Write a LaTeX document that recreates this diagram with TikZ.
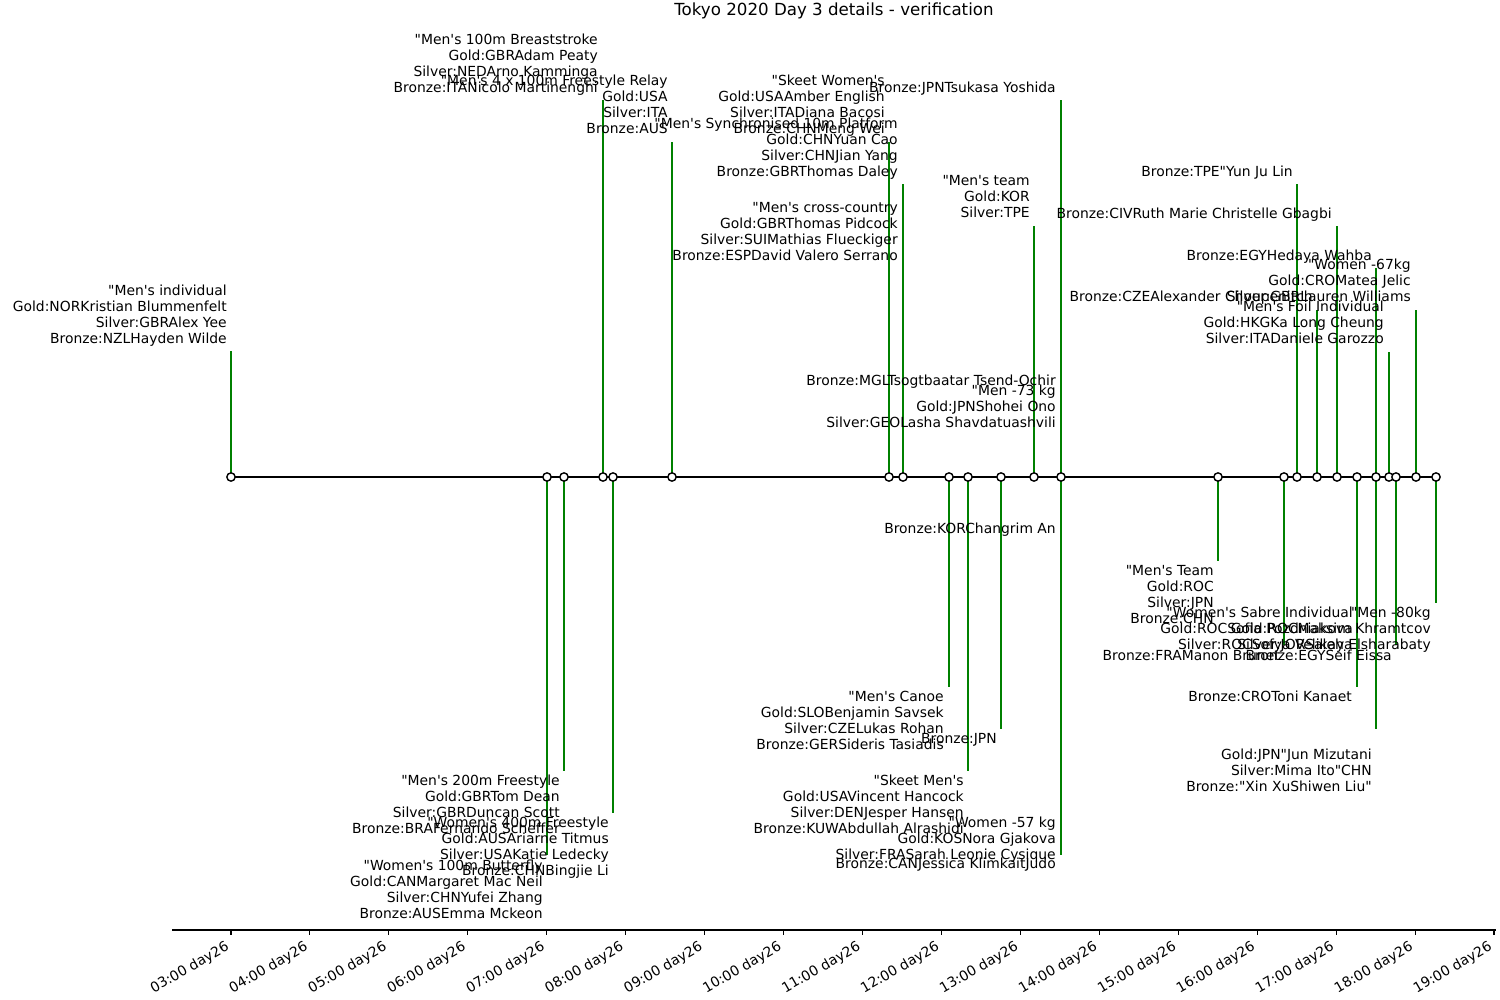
\documentclass[tikz,border=0pt]{standalone}
\usepackage{fontspec}
\setmainfont{DejaVu Sans}[Ligatures=TeXOff]
\definecolor{mgreen}{rgb}{0,0.5,0}
\begin{document}
\begin{tikzpicture}[x=0.72pt,y=-0.72pt,
  lbl/.style={anchor=north east, align=right, inner sep=0pt, font=\fontsize{10}{11.52}\selectfont},
  stemline/.style={draw=mgreen, line width=1.5pt},
  ev/.style={circle, draw=black, fill=white, line width=1pt, minimum size=6pt, inner sep=0pt},
  ticklbl/.style={anchor=north east, rotate=30, inner sep=0pt, font=\fontsize{10}{12}\selectfont},
  axisline/.style={line width=0.8pt, draw=black}]
\useasboundingbox (0,0) rectangle (1500,1000);

% title
\node[font=\fontsize{12}{14}\selectfont] (title) at (834,11) {Tokyo 2020 Day 3 details - verification};

% axis
\coordinate (axL) at (172,930);
\coordinate (axR) at (1496,930);
\draw[axisline] (axL) -- (axR);
\foreach \h [count=\k from 0] in {03,04,05,06,07,08,09,10,11,12,13,14,15,16,17,18,19}{
  \coordinate (tk\k) at ({231+78.94*\k},930);
  \coordinate (tkb\k) at ({231+78.94*\k},934.9);
  \draw[axisline] (tk\k) -- (tkb\k);
  \node[ticklbl] (tl\k) at ({231+78.94*\k-6.5},940) {\h:00 day26};
}

% event points on the timeline
\foreach \n/\x in {1/231,2/547,3/564,4/603,5/613,6/672,7/889,8/903,9/949,10/968,11/1001,12/1034,13/1061,14/1218,15/1284,16/1297,17/1317,18/1337,19/1357,20/1376,21/1389,22/1396,23/1416,24/1436}{
  \coordinate (p\n) at (\x,477);
}

% stems: name / point / x / end y
\foreach \m/\n/\x/\y in {a/1/231/351, q/2/547/855, r/3/564/771, b/4/603/100, s/5/613/813, c/6/672/142, d/7/889/142, e/8/903/184, f/8/903/267,
  t/9/949/687, u/10/968/771, v/11/1001/729, h/12/1034/226, g/13/1061/100, y/13/1061/855, i/13/1061/393, j/13/1061/435, w/13/1061/519, x/13/1061/813,
  z/14/1218/561, ab/15/1284/645, k/16/1297/184, o/17/1317/310, l/18/1337/226, ae/19/1357/687, aa/19/1357/603, m/20/1376/268, af/20/1376/729, pp/21/1389/352,
  ad/22/1396/645, n/23/1416/310, ac/24/1436/603}{
  \coordinate (s\m) at (\x,\y);
  \draw[stemline] (p\n) -- (s\m);
}

% timeline
\draw[line width=1.5pt, black] (p1) -- (p24);
\foreach \n in {1,...,24}{
  \node[ev] (e\n) at (p\n) {};
}

% labels above
\node[lbl] (la) at (227,285) {"Men's individual\\Gold:NORKristian Blummenfelt\\Silver:GBRAlex Yee\\Bronze:NZLHayden Wilde};
\node[lbl] (lb) at (598,34) {"Men's 100m Breaststroke\\Gold:GBRAdam Peaty\\Silver:NEDArno Kamminga\\Bronze:ITANicolo Martinenghi};
\node[lbl] (lc) at (668,75) {"Men's 4 x 100m Freestyle Relay\\Gold:USA\\Silver:ITA\\Bronze:AUS};
\node[lbl] (ld) at (885,75) {"Skeet Women's\\Gold:USAAmber English\\Silver:ITADiana Bacosi\\Bronze:CHNMeng Wei};
\node[lbl] (le) at (898,118) {"Men's Synchronised 10m Platform\\Gold:CHNYuan Cao\\Silver:CHNJian Yang\\Bronze:GBRThomas Daley};
\node[lbl] (lf) at (898,202) {"Men's cross-country\\Gold:GBRThomas Pidcock\\Silver:SUIMathias Flueckiger\\Bronze:ESPDavid Valero Serrano};
\node[lbl] (lg) at (1056,82) {Bronze:JPNTsukasa Yoshida};
\node[lbl] (lh) at (1030,175) {"Men's team\\Gold:KOR\\Silver:TPE};
\node[lbl] (li) at (1056,375) {Bronze:MGLTsogtbaatar Tsend-Ochir};
\node[lbl] (lj) at (1056,385) {"Men -73 kg\\Gold:JPNShohei Ono\\Silver:GEOLasha Shavdatuashvili};
\node[lbl] (lk) at (1293,166) {Bronze:TPE"Yun Ju Lin};
\node[lbl] (ll) at (1332,208) {Bronze:CIVRuth Marie Christelle Gbagbi};
\node[lbl] (lm) at (1372,250) {Bronze:EGYHedaya Wahba};
\node[lbl] (ln) at (1411,259) {"Women -67kg\\Gold:CROMatea Jelic\\Silver:GBRLauren Williams};
\node[lbl] (lo) at (1313,291) {Bronze:CZEAlexander Choupenitch};
\node[lbl] (lp) at (1384,301) {"Men's Foil Individual\\Gold:HKGKa Long Cheung\\Silver:ITADaniele Garozzo};

% labels below
\node[lbl] (lq) at (543,860) {"Women's 100m Butterfly\\Gold:CANMargaret Mac Neil\\Silver:CHNYufei Zhang\\Bronze:AUSEmma Mckeon};
\node[lbl] (lr) at (560,775) {"Men's 200m Freestyle\\Gold:GBRTom Dean\\Silver:GBRDuncan Scott\\Bronze:BRAFernando Scheffer};
\node[lbl] (ls) at (609,817) {"Women's 400m Freestyle\\Gold:AUSAriarne Titmus\\Silver:USAKatie Ledecky\\Bronze:CHNBingjie Li};
\node[lbl] (lt) at (944,691) {"Men's Canoe\\Gold:SLOBenjamin Savsek\\Silver:CZELukas Rohan\\Bronze:GERSideris Tasiadis};
\node[lbl] (lu) at (964,775) {"Skeet Men's\\Gold:USAVincent Hancock\\Silver:DENJesper Hansen\\Bronze:KUWAbdullah Alrashidi};
\node[lbl] (lv) at (997,733) {Bronze:JPN};
\node[lbl] (lw) at (1056,523) {Bronze:KORChangrim An};
\node[lbl] (lx) at (1056,817) {"Women -57 kg\\Gold:KOSNora Gjakova\\Silver:FRASarah Leonie Cysique};
\node[lbl] (ly) at (1056,858) {Bronze:CANJessica KlimkaitJudo};
\node[lbl] (lz) at (1214,565) {"Men's Team\\Gold:ROC\\Silver:JPN\\Bronze:CHN};
\node[lbl] (laa) at (1353,607) {"Women's Sabre Individual\\Gold:ROCSofia Pozdniakova\\Silver:ROCSofya Velikaya};
\node[lbl] (lab) at (1280,650) {Bronze:FRAManon Brunet};
\node[lbl] (lac) at (1431,607) {"Men -80kg\\Gold:ROCMaksim Khramtcov\\Silver:JORSaleh Elsharabaty};
\node[lbl] (lad) at (1392,650) {Bronze:EGYSeif Eissa};
\node[lbl] (lae) at (1352,691) {Bronze:CROToni Kanaet};
\node[lbl] (laf) at (1372,749) {Gold:JPN"Jun Mizutani\\Silver:Mima Ito"CHN\\Bronze:"Xin XuShiwen Liu"};
\end{tikzpicture}
\end{document}
